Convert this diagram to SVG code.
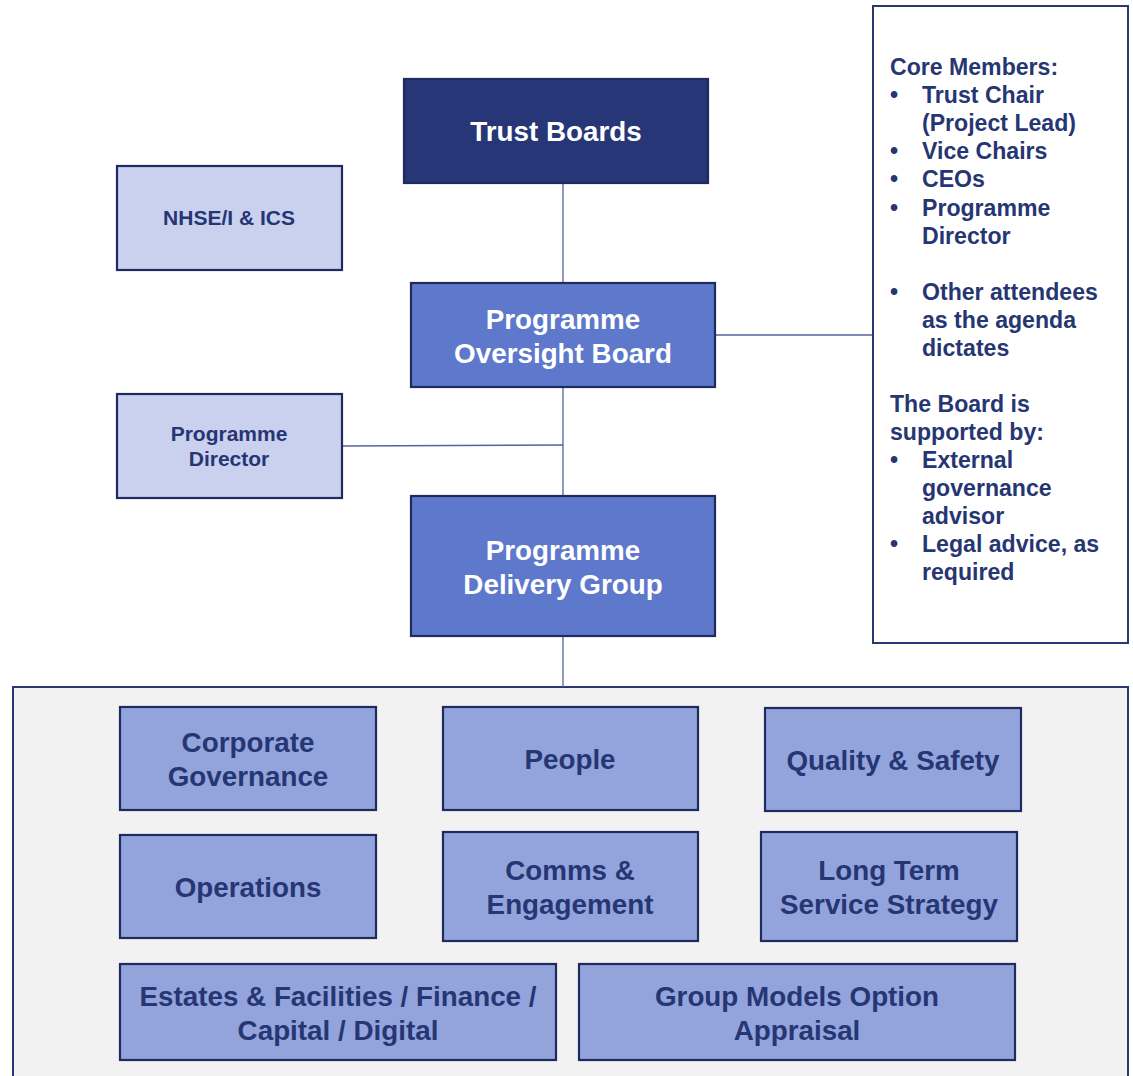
<svg xmlns="http://www.w3.org/2000/svg" width="1133" height="1076" viewBox="0 0 1133 1076">
<style>
text{font-family:"Liberation Sans",Arial,sans-serif;font-weight:bold;}
.box{stroke:#1F2B5E;stroke-width:2.2;}
.dark{fill:#273676;}
.mid{fill:#5E78CB;}
.light{fill:#C9D1EE;}
.sub{fill:#93A4DD;}
.wt{fill:#FFFFFF;font-size:27.8px;text-anchor:middle;}
.nt{fill:#263673;font-size:27.8px;text-anchor:middle;}
.st{fill:#263673;font-size:21px;text-anchor:middle;}
.rt{fill:#263673;font-size:23.1px;}
.conn line{stroke:#55659A;stroke-width:1.3;}
</style>
<rect width="1133" height="1076" fill="#FFFFFF"/>
<g id="container">
<rect x="13" y="687" width="1115" height="400" fill="#F2F2F2" stroke="#2A3870" stroke-width="2"/>
</g>
<g class="conn" id="connectors">
<line x1="563" y1="183" x2="563" y2="283"/>
<line x1="563" y1="387" x2="563" y2="496"/>
<line x1="342" y1="446" x2="563" y2="445"/>
<line x1="715" y1="335" x2="873" y2="335"/>
<line x1="563" y1="636" x2="563" y2="687"/>
</g>
<g id="trust-boards">
<rect class="box dark" x="404" y="79" width="304" height="104"/>
<text class="wt" x="556" y="141">Trust Boards</text>
</g>
<g id="oversight-board">
<rect class="box mid" x="411" y="283" width="304" height="104"/>
<text class="wt" x="563" y="329">Programme</text>
<text class="wt" x="563" y="363">Oversight Board</text>
</g>
<g id="delivery-group">
<rect class="box mid" x="411" y="496" width="304" height="140"/>
<text class="wt" x="563" y="560">Programme</text>
<text class="wt" x="563" y="594">Delivery Group</text>
</g>
<g id="nhse">
<rect class="box light" x="117" y="166" width="225" height="104"/>
<text class="st" x="229" y="225">NHSE/I &amp; ICS</text>
</g>
<g id="programme-director">
<rect class="box light" x="117" y="394" width="225" height="104"/>
<text class="st" x="229" y="441">Programme</text>
<text class="st" x="229" y="466">Director</text>
</g>
<g id="members">
<rect x="873" y="6" width="255" height="637" fill="#FFFFFF" stroke="#2A3870" stroke-width="2"/>
<text class="rt" x="890" y="75">Core Members:</text>
<text class="rt" x="890" y="103">•</text><text class="rt" x="922" y="103">Trust Chair</text>
<text class="rt" x="922" y="131">(Project Lead)</text>
<text class="rt" x="890" y="159">•</text><text class="rt" x="922" y="159">Vice Chairs</text>
<text class="rt" x="890" y="187">•</text><text class="rt" x="922" y="187">CEOs</text>
<text class="rt" x="890" y="216">•</text><text class="rt" x="922" y="216">Programme</text>
<text class="rt" x="922" y="244">Director</text>
<text class="rt" x="890" y="300">•</text><text class="rt" x="922" y="300">Other attendees</text>
<text class="rt" x="922" y="328">as the agenda</text>
<text class="rt" x="922" y="356">dictates</text>
<text class="rt" x="890" y="412">The Board is</text>
<text class="rt" x="890" y="440">supported by:</text>
<text class="rt" x="890" y="468">•</text><text class="rt" x="922" y="468">External</text>
<text class="rt" x="922" y="496">governance</text>
<text class="rt" x="922" y="524">advisor</text>
<text class="rt" x="890" y="552">•</text><text class="rt" x="922" y="552">Legal advice, as</text>
<text class="rt" x="922" y="580">required</text>
</g>
<g id="corporate-governance">
<rect class="box sub" x="120" y="707" width="256" height="103"/>
<text class="nt" x="248" y="752">Corporate</text>
<text class="nt" x="248" y="786">Governance</text>
</g>
<g id="people">
<rect class="box sub" x="443" y="707" width="255" height="103"/>
<text class="nt" x="570" y="769">People</text>
</g>
<g id="quality-safety">
<rect class="box sub" x="765" y="708" width="256" height="103"/>
<text class="nt" x="893" y="770">Quality &amp; Safety</text>
</g>
<g id="operations">
<rect class="box sub" x="120" y="835" width="256" height="103"/>
<text class="nt" x="248" y="897">Operations</text>
</g>
<g id="comms">
<rect class="box sub" x="443" y="832" width="255" height="109"/>
<text class="nt" x="570" y="880">Comms &amp;</text>
<text class="nt" x="570" y="914">Engagement</text>
</g>
<g id="long-term">
<rect class="box sub" x="761" y="832" width="256" height="109"/>
<text class="nt" x="889" y="880">Long Term</text>
<text class="nt" x="889" y="914">Service Strategy</text>
</g>
<g id="estates">
<rect class="box sub" x="120" y="964" width="436" height="96"/>
<text class="nt" x="338" y="1006">Estates &amp; Facilities / Finance /</text>
<text class="nt" x="338" y="1040">Capital / Digital</text>
</g>
<g id="group-models">
<rect class="box sub" x="579" y="964" width="436" height="96"/>
<text class="nt" x="797" y="1006">Group Models Option</text>
<text class="nt" x="797" y="1040">Appraisal</text>
</g>
</svg>
